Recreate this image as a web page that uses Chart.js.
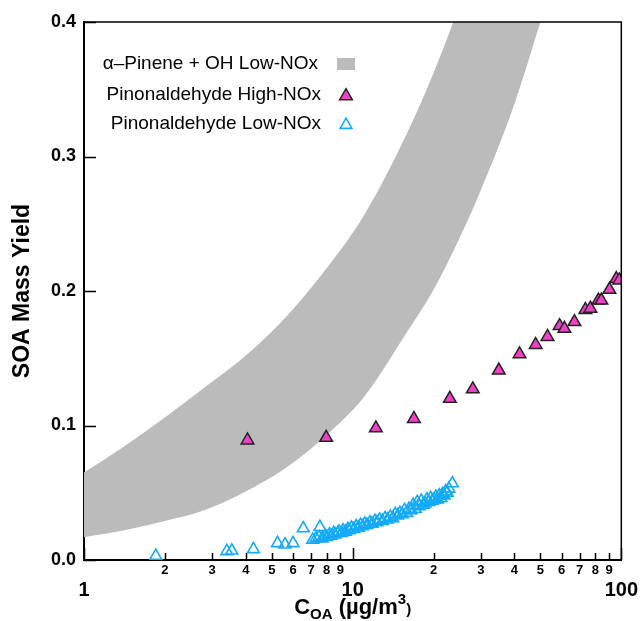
<!DOCTYPE html>
<html>
<head>
<meta charset="utf-8">
<script src="https://cdn.jsdelivr.net/npm/chart.js@4.4.1/dist/chart.umd.min.js"></script>
<style>
  html, body { margin: 0; padding: 0; background: #fff; }
  #wrap { width: 641px; height: 621px; position: relative; }
</style>
</head>
<body>
<div id="wrap"><canvas id="chart"></canvas></div>
<script>
// edges of the grey band (a-pinene + OH, low-NOx)
const bandX     = [1, 1.4, 2, 2.8, 4, 5.6, 8, 11, 16, 20, 24, 30, 40, 50];
const bandUpper = [0.065, 0.084, 0.106, 0.128, 0.152, 0.180, 0.217, 0.256, 0.318, 0.362, 0.403, 0.457, 0.532, 0.60];
const bandLower = [0.017, 0.022, 0.029, 0.037, 0.051, 0.068, 0.093, 0.121, 0.170, 0.201, 0.232, 0.275, 0.339, 0.40];

// pinonaldehyde high-NOx
const highX = [4.06, 7.97, 12.2, 16.9, 23.0, 28.0, 35.0, 41.8, 48.0, 53.1, 58.9, 61.4, 66.9, 73.5, 76.7, 82.2, 84.3, 90.3, 95.8, 98.3];
const highY = [0.089, 0.091, 0.098, 0.105, 0.120, 0.127, 0.141, 0.153, 0.160, 0.166, 0.174, 0.172, 0.177, 0.186, 0.187, 0.193, 0.193, 0.201, 0.209, 0.208];

// pinonaldehyde low-NOx
const lowX = [1.85, 3.4, 3.55, 4.27, 5.25, 5.6, 6.0, 6.55, 7.1, 7.55,
              7.3, 7.5, 7.7, 7.9, 8.0, 8.2, 8.3, 8.5, 8.6, 8.8, 8.9, 9.1, 9.2, 9.4, 9.6, 9.7, 9.9,
              10.1, 10.3, 10.5, 10.7, 10.9, 11.1, 11.3, 11.6, 11.8, 12.1, 12.3, 12.6, 12.9, 13.2, 13.5, 13.8,
              14.1, 14.4, 14.7, 15.0, 15.3, 15.6, 15.9, 16.2, 16.5, 16.8, 17.1, 17.4, 17.7, 18.0, 18.3, 18.6,
              18.9, 19.2, 19.5, 19.8, 20.1, 20.4, 20.7, 21.0, 21.3, 21.6, 21.9, 22.2, 22.5, 22.8, 23.5];
const lowY = [0.003, 0.0065, 0.007, 0.008, 0.0125, 0.0115, 0.0125, 0.0235, 0.015, 0.0245,
              0.016, 0.017, 0.016, 0.018, 0.017, 0.019, 0.018, 0.020, 0.019, 0.020, 0.021, 0.020, 0.022, 0.021, 0.023, 0.022, 0.024,
              0.023, 0.025, 0.024, 0.026, 0.025, 0.027, 0.026, 0.028, 0.027, 0.029, 0.028, 0.030, 0.029, 0.031, 0.030, 0.032,
              0.031, 0.034, 0.033, 0.035, 0.034, 0.037, 0.035, 0.038, 0.037, 0.041, 0.038, 0.043, 0.040, 0.044, 0.041, 0.042,
              0.045, 0.043, 0.046, 0.044, 0.045, 0.047, 0.045, 0.048, 0.046, 0.049, 0.048, 0.051, 0.050, 0.053, 0.057];

const xTicks = [1, 2, 3, 4, 5, 6, 7, 8, 9, 10, 20, 30, 40, 50, 60, 70, 80, 90, 100];
const xMajor = [1, 10, 100];
const yTicks = [0, 0.1, 0.2, 0.3, 0.4];

const legendLabels = ['\u03b1\u2013Pinene + OH Low-NOx', 'Pinonaldehyde High-NOx', 'Pinonaldehyde Low-NOx'];

const FONT = '"Liberation Sans", Arial, Helvetica, sans-serif';
Chart.defaults.font.family = FONT;
Chart.defaults.color = '#000';

const GREY = '#bbbbbb';
const MAGENTA = 'rgb(240,64,200)';
const CYAN = 'rgb(20,170,250)';

function pts(xs, ys) {
  return xs.map((v, i) => ({ x: v, y: ys[i] }));
}

// inward ticks + top/right frame
const frame = {
  id: 'frame',
  afterDatasetsDraw(chart) {
    const { ctx, chartArea: a, scales: { x, y } } = chart;
    ctx.save();
    ctx.strokeStyle = '#000';
    ctx.lineWidth = 1.5;
    ctx.beginPath();
    ctx.moveTo(a.left, a.top);
    ctx.lineTo(a.right, a.top);
    ctx.lineTo(a.right, a.bottom);
    ctx.stroke();

    ctx.beginPath();
    x.ticks.forEach(t => {
      const px = Math.round(x.getPixelForValue(t.value)) + 0.5;
      const len = xMajor.includes(t.value) ? 12 : 7;
      ctx.moveTo(px, a.bottom);
      ctx.lineTo(px, a.bottom - len);
    });
    y.ticks.forEach(t => {
      const py = Math.round(y.getPixelForValue(t.value)) + 0.5;
      ctx.moveTo(a.left, py);
      ctx.lineTo(a.left + 12, py);
    });
    ctx.stroke();
    ctx.restore();
  }
};

function triangle(ctx, cx, cy, r) {
  ctx.beginPath();
  ctx.moveTo(cx, cy - r);
  ctx.lineTo(cx + r * Math.sin(2 * Math.PI / 3), cy + r / 2);
  ctx.lineTo(cx - r * Math.sin(2 * Math.PI / 3), cy + r / 2);
  ctx.closePath();
}

const legendAndTitle = {
  id: 'legendAndTitle',
  afterDraw(chart) {
    const { ctx, chartArea: a } = chart;
    ctx.save();
    // legend
    ctx.font = '19px ' + FONT;
    ctx.fillStyle = '#000';
    ctx.textAlign = 'right';
    ctx.textBaseline = 'middle';
    const tx = a.left + 237;
    const sx = a.left + 262;
    const rows = [a.top + 42, a.top + 73, a.top + 102];
    ctx.fillText(legendLabels[0], tx - 3, rows[0]);
    ctx.fillText(legendLabels[1], tx, rows[1]);
    ctx.fillText(legendLabels[2], tx, rows[2]);

    ctx.fillStyle = GREY;
    ctx.fillRect(sx - 9, rows[0] - 6, 18, 12);

    triangle(ctx, sx, rows[1] + 1, 7.3);
    ctx.fillStyle = MAGENTA;
    ctx.fill();
    ctx.lineWidth = 1.5;
    ctx.strokeStyle = '#222';
    ctx.stroke();

    triangle(ctx, sx, rows[2] + 1, 6.8);
    ctx.lineWidth = 1.6;
    ctx.strokeStyle = CYAN;
    ctx.stroke();

    // x axis title: C_OA (ug/m^3)
    const big = 'bold 22px ' + FONT;
    const small = 'bold 15px ' + FONT;
    const parts = [
      { t: 'C', f: big, dy: 0 },
      { t: 'OA', f: small, dy: 5 },
      { t: ' (\u00b5g/m', f: big, dy: 0 },
      { t: '3', f: small, dy: -10 },
      { t: ')', f: small, dy: 0 }
    ];
    let w = 0;
    parts.forEach(p => { ctx.font = p.f; p.w = ctx.measureText(p.t).width; w += p.w; });
    let cx = (a.left + a.right) / 2 - w / 2;
    const base = 614;
    ctx.fillStyle = '#000';
    ctx.textAlign = 'left';
    ctx.textBaseline = 'alphabetic';
    parts.forEach(p => {
      ctx.font = p.f;
      ctx.fillText(p.t, cx, base + p.dy);
      cx += p.w;
    });
    ctx.restore();
  }
};

new Chart(document.getElementById('chart'), {
  type: 'scatter',
  data: {
    datasets: [
      {
        label: 'band lower',
        data: pts(bandX, bandLower),
        showLine: true,
        pointRadius: 0,
        borderWidth: 0,
        borderColor: GREY,
        backgroundColor: GREY,
        cubicInterpolationMode: 'monotone',
        fill: false,
        order: 3
      },
      {
        label: legendLabels[0],
        data: pts(bandX, bandUpper),
        showLine: true,
        pointRadius: 0,
        borderWidth: 0,
        borderColor: GREY,
        backgroundColor: GREY,
        cubicInterpolationMode: 'monotone',
        fill: '-1',
        order: 3
      },
      {
        label: legendLabels[1],
        data: pts(highX, highY),
        pointStyle: 'triangle',
        pointRadius: 7.3,
        pointBackgroundColor: MAGENTA,
        pointBorderColor: '#222',
        pointBorderWidth: 1.5,
        order: 1
      },
      {
        label: legendLabels[2],
        data: pts(lowX, lowY),
        pointStyle: 'triangle',
        pointRadius: 6.8,
        pointBackgroundColor: 'rgba(255,255,255,0)',
        pointBorderColor: CYAN,
        pointBorderWidth: 1.6,
        order: 2
      }
    ]
  },
  options: {
    responsive: true,
    maintainAspectRatio: false,
    animation: false,
    layout: { padding: { left: 0, right: 18, top: 22, bottom: 0 } },
    plugins: {
      legend: { display: false },
      tooltip: { enabled: false }
    },
    scales: {
      x: {
        type: 'logarithmic',
        min: 1,
        max: 100,
        grid: { display: false, drawTicks: false },
        border: { display: true, color: '#000', width: 2 },
        afterBuildTicks(s) { s.ticks = xTicks.map(v => ({ value: v })); },
        afterFit(s) { s.height = 61; },
        ticks: {
          autoSkip: false,
          maxRotation: 0,
          padding: 3,
          color: '#000',
          font(c) {
            const v = c.tick ? c.tick.value : 0;
            return xMajor.includes(v)
              ? { size: 20, weight: 'bold', lineHeight: 0.9 }
              : { size: 13, weight: 'bold', lineHeight: 1.2 };
          },
          callback(v) {
            if (xMajor.includes(v)) return ['', String(v)];
            const d = Math.round(v / Math.pow(10, Math.floor(Math.log10(v) + 1e-9)));
            return String(d);
          }
        }
      },
      y: {
        min: 0,
        max: 0.4,
        grid: { display: false, drawTicks: false },
        border: { display: true, color: '#000', width: 2 },
        afterBuildTicks(s) { s.ticks = yTicks.map(v => ({ value: v })); },
        afterFit(s) { s.width = 84; },
        ticks: {
          padding: 8,
          color: '#000',
          font: { size: 18, weight: 'bold' },
          callback(v) { return v.toFixed(1); }
        },
        title: {
          display: true,
          text: 'SOA Mass Yield',
          color: '#000',
          font: { size: 23, weight: 'bold' },
          padding: { top: 9, bottom: 0 }
        }
      }
    }
  },
  plugins: [frame, legendAndTitle]
});
</script>
</body>
</html>
